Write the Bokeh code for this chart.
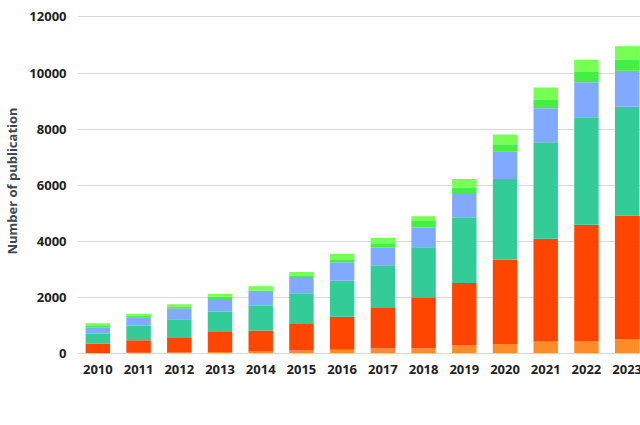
from bokeh.plotting import figure
from bokeh.models import ColumnDataSource, Legend
from bokeh.embed import file_html
from bokeh.resources import INLINE

years = [str(y) for y in range(2010, 2024)]
hydro = [20, 30, 40, 50, 70, 110, 130, 180, 190, 290, 340, 430, 450, 510]
solar = [335, 440, 540, 720, 750, 970, 1180, 1440, 1790, 2220, 3000, 3660, 4140, 4410]
wind = [345, 520, 640, 730, 880, 1070, 1280, 1530, 1810, 2350, 2880, 3440, 3830, 3880]
biomass = [235, 300, 380, 440, 490, 540, 660, 630, 700, 860, 990, 1210, 1250, 1280]
geothermal = [75, 60, 80, 80, 60, 80, 80, 120, 230, 200, 250, 320, 370, 390]
wave = [70, 70, 80, 100, 150, 140, 230, 230, 170, 300, 350, 420, 430, 480]

names = ["Hydroelectric", "Solar", "Wind", "Biomass", "Geothermal", "Wave"]
colors = ["#FF8C2A", "#FF4500", "#33CC99", "#80AAFF", "#44EE44", "#77FF55"]

src = ColumnDataSource(dict(year=years, Hydroelectric=hydro, Solar=solar, Wind=wind,
                            Biomass=biomass, Geothermal=geothermal, Wave=wave))

p = figure(x_range=years, y_range=(0, 12300), frame_width=570, frame_height=345,
           output_backend="svg", toolbar_location=None,
           min_border_left=5, min_border_right=8, min_border_top=8, min_border_bottom=0)
r = p.vbar_stack(names, x="year", width=0.6, color=colors, source=src, line_width=0)

p.xgrid.grid_line_color = None
p.ygrid.grid_line_color = "#d9d9d9"
p.outline_line_color = None
p.yaxis.axis_line_color = None
p.xaxis.axis_line_color = "#d0d8e0"
p.axis.major_tick_line_color = None
p.axis.minor_tick_line_color = None
p.axis.major_label_text_font = "Open Sans"
p.axis.major_label_text_font_style = "bold"
p.axis.major_label_text_font_size = "13px"
p.axis.major_label_text_color = "#222222"
p.yaxis.ticker = [0, 2000, 4000, 6000, 8000, 10000, 12000]
p.yaxis.axis_label = "Number of publication"
p.yaxis.axis_label_text_font = "Open Sans"
p.yaxis.axis_label_text_font_style = "bold"
p.yaxis.axis_label_text_font_size = "13px"
p.yaxis.axis_label_text_color = "#3a4a55"

legend = Legend(items=[(n, [g]) for n, g in zip(names, r)], orientation="horizontal",
                border_line_color=None, label_text_font="Open Sans",
                label_text_font_size="13px", glyph_width=12, glyph_height=12,
                spacing=22, label_text_color="#222222")
p.add_layout(legend, "below")

open("out.html", "w").write(file_html(p, INLINE))
